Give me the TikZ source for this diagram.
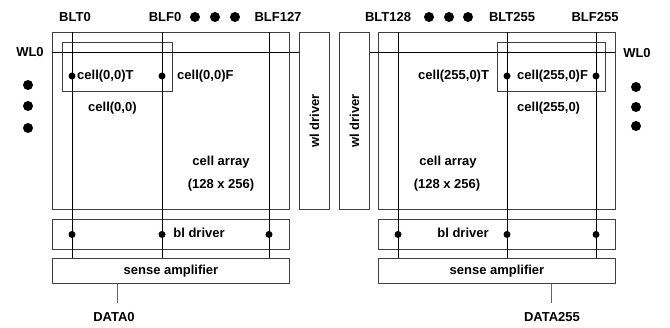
\documentclass[tikz,border=0pt]{standalone}
\usepackage{fontspec}
\setmainfont{Liberation Sans}
\usetikzlibrary{positioning}

\begin{document}
\begin{tikzpicture}[x=1pt, y=-1pt,
    box/.style={draw=black!75, line width=0.9pt, inner sep=0pt, anchor=north west},
    lbl/.style={font=\bfseries\fontsize{13}{15}\selectfont, inner sep=0pt},
    bigdot/.style={circle, fill, inner sep=0pt, minimum size=10pt},
    tap/.style={circle, fill, inner sep=0pt, minimum size=7pt},
    wire/.style={line width=0.9pt}]
    \useasboundingbox (0,0) rectangle (670,327);

    % left array
    \node[box, minimum width=237pt, minimum height=177pt] (arrL) at (52,32) {};
    \node[box, minimum width=30pt, minimum height=177pt] (wlL) at (299,32) {};
    \node[lbl, rotate=90] (wlLtxt) at (wlL.center) {wl driver};
    \node[box, minimum width=110pt, minimum height=49pt] (cellL) at (62,42) {};
    \node[box, minimum width=237pt, minimum height=30pt] (bldL) at (52,219) {};
    \node[box, minimum width=237pt, minimum height=25pt] (saL) at (52,258) {};
    \node[lbl] (saLtxt) at (saL.center) {sense amplifier};

    \coordinate (wl0L) at (52,52);
    \draw[wire] (wl0L) -- (wl0L -| wlL.west);
    \foreach \n/\x in {blt0/72, blf0/162, blf127/269} {
        \coordinate (\n) at (\x,32);
        \draw[wire] (\n) -- (\n |- saL.north);
        \node[tap] (\n-bl) at (\n |- bldL.center) {};
    }
    \node[tap] (cT0) at (blt0 |- 0,76) {};
    \node[tap] (cF0) at (blf0 |- 0,76) {};

    \node[lbl] (BLT0) at (75,17) {BLT0};
    \node[lbl] (BLF0) at (165,17) {BLF0};
    \node[bigdot] (d1) at (195,17) {};
    \node[bigdot] (d2) at (215,17) {};
    \node[bigdot] (d3) at (235,17) {};
    \node[lbl] (BLF127) at (278,17) {BLF127};
    \node[lbl] (WL0L) at (30,52) {WL0};
    \node[bigdot] (v1) at (28,85) {};
    \node[bigdot] (v2) at (28,106) {};
    \node[bigdot] (v3) at (28,128) {};
    \node[lbl, anchor=west] (c00T) at (77,76) {cell(0,0)T};
    \node[lbl, anchor=west] (c00F) at (177,76) {cell(0,0)F};
    \node[lbl, anchor=west] (c00) at (88,108) {cell(0,0)};
    \node[lbl] (caL) at (221,162) {cell array};
    \node[lbl] (szL) at (221,185) {(128 x 256)};
    \node[lbl] (bldLtxt) at (199,233) {bl driver};

    \coordinate (data0) at (117,303);
    \draw[wire, black!60] (saL.south -| data0) -- (data0);
    \node[lbl] (DATA0) at (114,317) {DATA0};

    % right array
    \node[box, minimum width=30pt, minimum height=177pt] (wlR) at (339,32) {};
    \node[lbl, rotate=90] (wlRtxt) at (wlR.center) {wl driver};
    \node[box, minimum width=237pt, minimum height=177pt] (arrR) at (378,32) {};
    \node[box, minimum width=108pt, minimum height=49pt] (cellR) at (497,42) {};
    \node[box, minimum width=237pt, minimum height=30pt] (bldR) at (378,219) {};
    \node[box, minimum width=237pt, minimum height=25pt] (saR) at (378,258) {};
    \node[lbl] (saRtxt) at (saR.center) {sense amplifier};

    \coordinate (wl0R) at (615,52);
    \draw[wire] (wlR.east |- wl0R) -- (wl0R);
    \foreach \n/\x in {blt128/398, blt255/507, blf255/596} {
        \coordinate (\n) at (\x,32);
        \draw[wire] (\n) -- (\n |- saR.north);
        \node[tap] (\n-bl) at (\n |- bldR.center) {};
    }
    \node[tap] (cT255) at (blt255 |- 0,76) {};
    \node[tap] (cF255) at (blf255 |- 0,76) {};

    \node[lbl] (BLT128) at (388,17) {BLT128};
    \node[bigdot] (d4) at (429,17) {};
    \node[bigdot] (d5) at (449,17) {};
    \node[bigdot] (d6) at (468,17) {};
    \node[lbl] (BLT255) at (512,17) {BLT255};
    \node[lbl] (BLF255) at (595,17) {BLF255};
    \node[lbl] (WL0R) at (637,53) {WL0};
    \node[bigdot] (v4) at (636,87) {};
    \node[bigdot] (v5) at (636,107) {};
    \node[bigdot] (v6) at (636,126) {};
    \node[lbl, anchor=west] (c2550T) at (418,76) {cell(255,0)T};
    \node[lbl, anchor=west] (c2550F) at (517,76) {cell(255,0)F};
    \node[lbl, anchor=west] (c2550) at (517,108) {cell(255,0)};
    \node[lbl] (caR) at (448,162) {cell array};
    \node[lbl] (szR) at (447,185) {(128 x 256)};
    \node[lbl] (bldRtxt) at (463,233) {bl driver};

    \coordinate (data255) at (551,303);
    \draw[wire, black!60] (saR.south -| data255) -- (data255);
    \node[lbl] (DATA255) at (552,317) {DATA255};
\end{tikzpicture}
\end{document}
